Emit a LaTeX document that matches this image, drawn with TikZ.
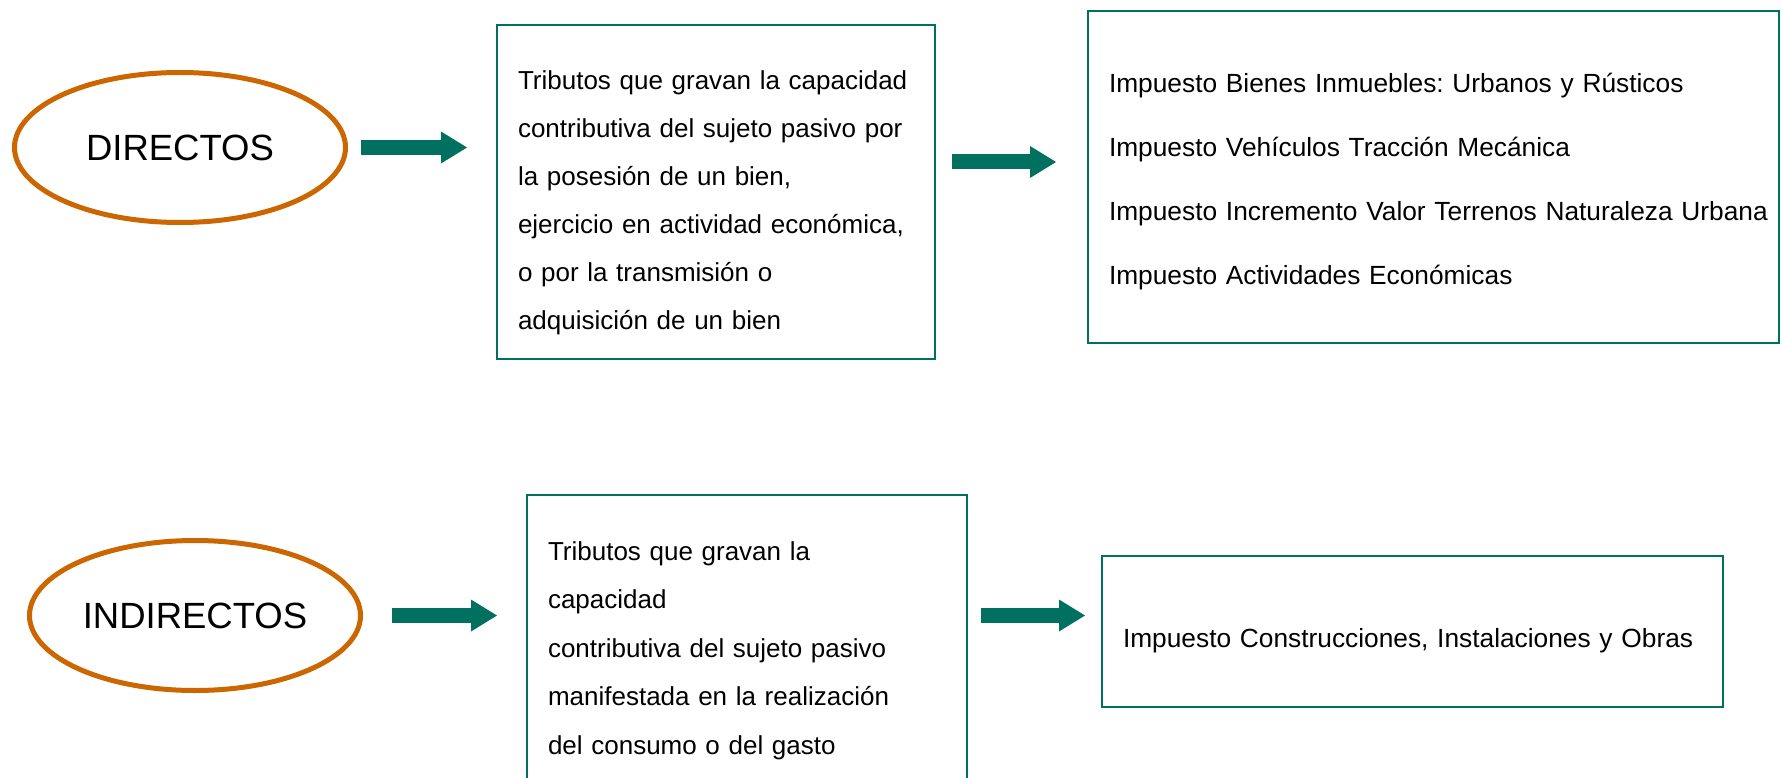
\documentclass[tikz,border=0pt]{standalone}
\usepackage{fontspec}
\setmainfont{Liberation Sans}
\usetikzlibrary{arrows.meta, shapes.geometric}
\definecolor{ovalorange}{RGB}{204,102,0}
\definecolor{arrowteal}{RGB}{0,112,96}
\newcommand{\toppad}[1]{\rule{0pt}{#1}}
\frenchspacing

\begin{document}
\begin{tikzpicture}[x=1pt, y=-1pt,
		oval/.style={ellipse, draw=ovalorange, line width=5pt, inner sep=0pt, outer sep=0pt, font=\fontsize{36.5}{44}\selectfont},
		textbox/.style={rectangle, draw=arrowteal, line width=2pt, inner xsep=21pt, inner ysep=0pt, outer sep=0pt, align=left},
		blockarrow/.style={arrowteal, line width=15pt, -{Triangle[length=26pt, width=32pt, line width=0pt]}}]
		\useasboundingbox (0,0) rectangle (1782,778);
		\node [oval, minimum width=331pt, minimum height=150pt] (dir) at (180,147.5) {DIRECTOS};
		\node [oval, minimum width=331pt, minimum height=150pt] (indir) at (195,615.5) {INDIRECTOS};
		\node [textbox, text width=396pt, minimum height=334pt, font=\fontsize{26}{48}\selectfont] (defdir) at (716,192) {\toppad{41pt}Tributos que gravan la capacidad\\contributiva del sujeto pasivo por\\la posesión de un bien,\\ejercicio en actividad económica,\\o por la transmisión o\\adquisición de un bien};
		\node [textbox, text width=649pt, minimum height=332pt, font=\fontsize{26.3}{64}\selectfont] (impdir) at (1433.5,177) {\toppad{29pt}Impuesto Bienes Inmuebles: Urbanos y Rústicos\\Impuesto Vehículos Tracción Mecánica\\\mbox{Impuesto Incremento Valor Terrenos Naturaleza Urbana}\\Impuesto Actividades Económicas};
		\node [textbox, text width=398pt, minimum height=300pt, font=\fontsize{26}{48.5}\selectfont] (defindir) at (747,645) {\toppad{29.5pt}Tributos que gravan la\\capacidad\\contributiva del sujeto pasivo\\manifestada en la realización\\del consumo o del gasto};
		\node [textbox, text width=579pt, minimum height=151pt, font=\fontsize{26.3}{31}\selectfont] (impindir) at (1412.5,631.5) {\toppad{37pt}Impuesto Construcciones, Instalaciones y Obras};
		\draw [blockarrow, shorten <=15.5pt, shorten >=30pt] (dir.east) -- (dir.east -| defdir.west);
		\draw [blockarrow, shorten <=17pt, shorten >=32pt] ([yshift=30pt]defdir.east) -- ([yshift=30pt]defdir.east -| impdir.west);
		\draw [blockarrow, shorten <=31.5pt, shorten >=30pt] (indir.east) -- (indir.east -| defindir.west);
		\draw [blockarrow, shorten <=14pt, shorten >=17pt] (defindir.east |- indir.east) -- (indir.east -| impindir.west);
	\end{tikzpicture}
\end{document}
